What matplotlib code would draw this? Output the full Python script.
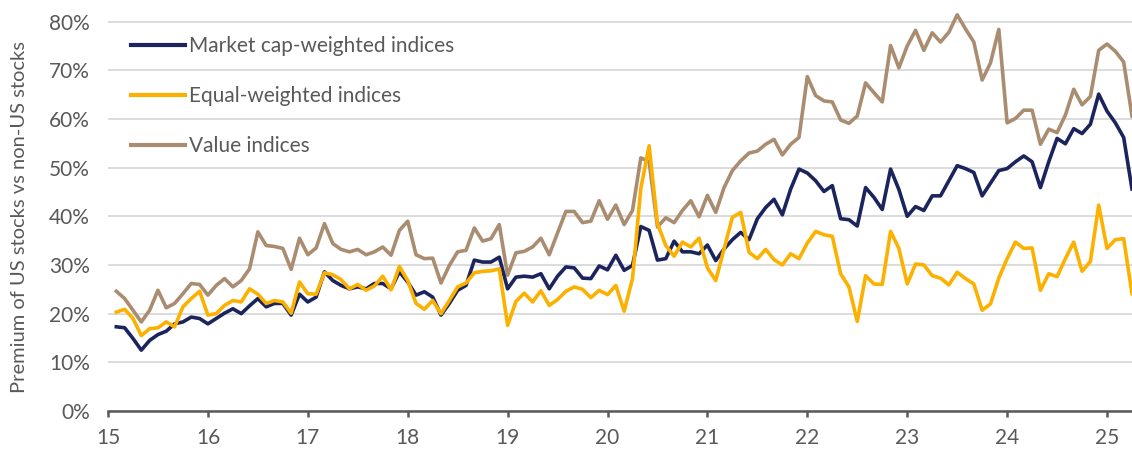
"""Premium of US stocks vs non-US stocks, monthly, 2015-2025."""

import numpy as np
import matplotlib
matplotlib.use("Agg")
import matplotlib.pyplot as plt

plt.rcParams['font.family'] = ['Lato', 'DejaVu Sans']

# month-end observations, Jan 2015 .. Mar 2025 (values in %)
MONTHS = np.arange(1, 124)

MARKET_CAP = [
    17.3, 17.1, 14.9, 12.5, 14.5, 15.7, 16.4, 17.9, 18.3, 19.3, 19.0, 17.9,
    19.0, 20.1, 21.0, 20.0, 21.6, 23.1, 21.4, 22.1, 22.1, 19.7, 24.0, 22.4,
    23.4, 28.6, 26.8, 25.8, 25.1, 25.5, 25.1, 26.2, 26.2, 25.1, 28.6, 26.5,
    23.8, 24.5, 23.4, 19.7, 22.1, 24.8, 25.8, 31.0, 30.6, 30.6, 31.6, 25.1,
    27.5, 27.7, 27.5, 28.2, 25.1, 27.7, 29.6, 29.4, 27.3, 27.2, 29.8, 29.0,
    32.0, 28.9, 29.9, 37.9, 37.1, 31.0, 31.3, 34.9, 32.7, 32.7, 32.3, 34.1,
    30.9, 33.3, 35.2, 36.7, 35.2, 39.5, 41.8, 43.5, 40.3, 45.6, 49.7, 48.9,
    47.3, 45.1, 46.3, 39.5, 39.3, 38.0, 45.9, 43.9, 41.4, 49.7, 45.5, 40.0,
    42.0, 41.2, 44.2, 44.2, 47.3, 50.4, 49.8, 49.0, 44.2, 46.8, 49.4, 49.8,
    51.2, 52.4, 51.2, 45.9, 51.2, 56.0, 54.9, 58.0, 57.0, 58.9, 65.1, 61.6,
    59.2, 56.2, 45.6,
]

EQUAL_WEIGHT = [
    20.3, 20.9, 19.0, 15.5, 16.9, 17.1, 18.3, 17.3, 21.4, 23.1, 24.6, 19.7,
    20.0, 21.7, 22.7, 22.4, 25.1, 24.0, 22.1, 22.7, 22.4, 20.1, 26.5, 24.1,
    24.0, 28.4, 28.0, 27.0, 25.1, 26.0, 24.8, 25.7, 27.7, 24.9, 29.7, 26.8,
    22.1, 20.9, 22.7, 20.0, 22.7, 25.5, 26.3, 28.4, 28.7, 28.8, 29.2, 17.6,
    22.5, 24.2, 22.4, 24.7, 21.7, 22.9, 24.6, 25.5, 25.0, 23.3, 24.8, 23.9,
    25.8, 20.5, 27.2, 45.7, 54.5, 38.5, 34.0, 31.8, 34.7, 33.7, 35.5, 29.4,
    26.8, 33.3, 39.8, 40.8, 32.6, 31.3, 33.2, 31.1, 30.0, 32.3, 31.3, 34.5,
    36.9, 36.2, 35.9, 28.2, 25.5, 18.4, 27.8, 26.1, 26.0, 36.9, 33.4, 26.1,
    30.2, 30.0, 27.8, 27.3, 25.9, 28.5, 27.2, 26.1, 20.7, 22.0, 27.3, 31.3,
    34.7, 33.4, 33.5, 24.8, 28.2, 27.6, 31.3, 34.7, 28.7, 30.7, 42.3, 33.4,
    35.2, 35.4, 24.1,
]

VALUE = [
    24.6, 23.1, 20.7, 18.3, 20.7, 24.8, 21.2, 22.1, 24.1, 26.2, 26.0, 23.8,
    25.8, 27.2, 25.5, 26.8, 29.2, 36.8, 34.0, 33.8, 33.4, 29.1, 35.5, 32.1,
    33.5, 38.5, 34.4, 33.2, 32.7, 33.2, 32.1, 32.7, 33.7, 32.0, 37.1, 39.0,
    32.1, 31.3, 31.4, 26.3, 29.9, 32.7, 33.0, 37.6, 34.9, 35.4, 38.3, 27.9,
    32.5, 32.8, 33.7, 35.5, 32.1, 36.6, 41.0, 41.0, 38.7, 39.0, 43.2, 39.4,
    42.3, 38.3, 41.2, 52.0, 51.2, 37.8, 39.7, 38.7, 41.2, 43.2, 39.9, 44.3,
    40.8, 45.9, 49.4, 51.4, 53.0, 53.4, 54.8, 55.8, 52.6, 54.8, 56.2, 68.7,
    64.8, 63.7, 63.5, 59.8, 59.1, 60.6, 67.4, 65.4, 63.5, 75.1, 70.5, 75.0,
    78.2, 74.1, 77.7, 75.8, 77.8, 81.4, 78.5, 75.8, 68.0, 71.5, 78.4, 59.2,
    60.1, 61.8, 61.8, 54.8, 57.9, 57.2, 60.8, 66.1, 62.9, 64.6, 74.1, 75.4,
    73.9, 71.7, 60.6,
]

YEAR_TICKS = list(range(15, 26))
Y_TICKS = list(range(0, 90, 10))

NAVY = '#1c245e'
GOLD = '#fcb100'
TAN = '#aa8c70'
GREY = '#595959'


def main():
    t = 15 + MONTHS / 12.0

    fig = plt.figure(figsize=(11.32, 4.51), dpi=100)
    ax = fig.add_axes([108 / 1132, 40 / 451, 1 - 108 / 1132, 404 / 451])

    ax.plot(t, VALUE, color=TAN, lw=2.6, zorder=3, label='Value indices')
    ax.plot(t, MARKET_CAP, color=NAVY, lw=2.6, zorder=4, label='Market cap-weighted indices')
    ax.plot(t, EQUAL_WEIGHT, color=GOLD, lw=2.6, zorder=5, label='Equal-weighted indices')

    ax.set_xlim(15, 25.25)
    ax.set_ylim(0, 83)
    ax.set_xticks(YEAR_TICKS)
    ax.set_xticklabels([str(y) for y in YEAR_TICKS])
    ax.set_yticks(Y_TICKS)
    ax.set_yticklabels([f'{v}%' for v in Y_TICKS])

    ax.grid(axis='y', color='#d9d9d9', lw=1.3, zorder=0)
    ax.set_axisbelow(True)
    for side in ('top', 'right', 'left'):
        ax.spines[side].set_visible(False)
    ax.spines['bottom'].set_color(GREY)
    ax.spines['bottom'].set_linewidth(1.8)
    ax.spines['bottom'].set_zorder(6)

    ax.tick_params(axis='x', colors=GREY, labelsize=15, length=4, width=1.8, pad=8)
    ax.tick_params(axis='y', colors=GREY, labelsize=15, length=0, pad=13)

    fig.text(20 / 1132, 1 - 217 / 451, 'Premium of US stocks vs non-US stocks',
             rotation=90, ha='center', va='center', color=GREY, fontsize=14.5)

    handles, labels = ax.get_legend_handles_labels()
    order = [1, 2, 0]
    leg = ax.legend([handles[i] for i in order], [labels[i] for i in order],
                    loc='upper left', bbox_to_anchor=(131 / 1132, 1 - 36 / 451),
                    bbox_transform=fig.transFigure, frameon=False, fontsize=15,
                    borderpad=0, borderaxespad=0, handlelength=2.6,
                    handletextpad=0.2, labelspacing=1.45)
    for line in leg.get_lines():
        line.set_linewidth(3)
    for text in leg.get_texts():
        text.set_color(GREY)

    fig.savefig('out.png', dpi=100)


if __name__ == '__main__':
    main()
